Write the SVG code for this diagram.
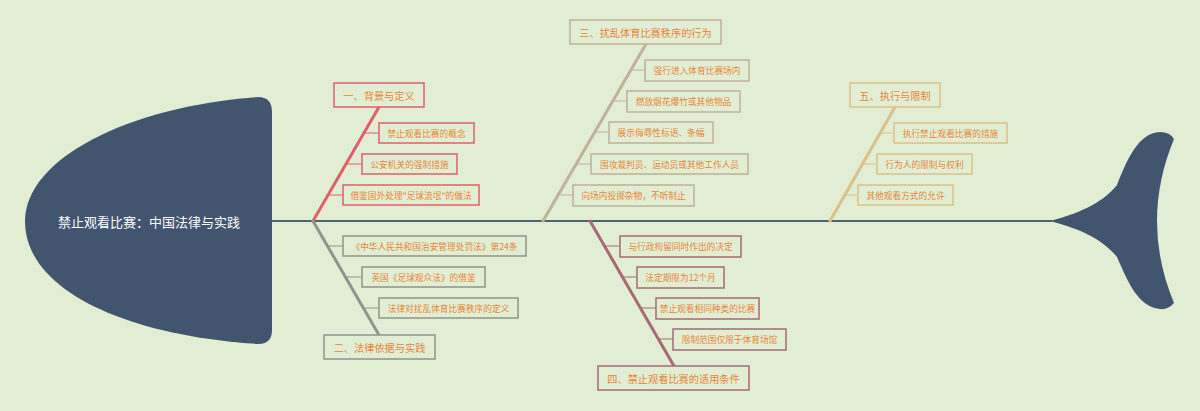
<svg xmlns="http://www.w3.org/2000/svg" width="1200" height="411" viewBox="0 0 1200 411">
<style>
text{font-family:"Noto Sans CJK SC","Noto Sans",sans-serif;text-anchor:middle;dominant-baseline:central;fill:#e8853a}
.lab{font-size:10.2px}
.sub{font-size:8.7px}
.box{fill:#e2eed3;stroke-width:1.5}
.title{font-size:13px;fill:#ffffff}
.b1{stroke:#e0606a}.b2{stroke:#8f958d}.b3{stroke:#c0b198}.b4{stroke:#a86a76}.b5{stroke:#dcc089}
.main{stroke-width:3;fill:none;stroke-linecap:round}
.tick{stroke-width:1;fill:none}
</style>
<rect width="1200" height="411" fill="#e2eed3"/>
<g id="connectors">
<line x1="270" y1="221" x2="1052" y2="221" stroke="#4f6378" stroke-width="2"/>
<line class="main b1" x1="313" y1="221" x2="379" y2="107"/>
<line class="main b2" x1="313" y1="221" x2="379" y2="335"/>
<line class="main b3" x1="543" y1="221" x2="646" y2="44"/>
<line class="main b4" x1="590" y1="221" x2="674" y2="366"/>
<line class="main b5" x1="830" y1="221" x2="895" y2="107"/>
<path class="tick b1" d="M364 133H379M346 164H362M328 195H343"/>
<path class="tick b2" d="M328 246H343M345 277H362M363 308H379"/>
<path class="tick b3" d="M631 70H645M613 101H627M595 132H609M576 164H591M558 195H573"/>
<path class="tick b4" d="M605 246H620M622 277H637M640 308H656M658 339H673"/>
<path class="tick b5" d="M880 133H894M862 164H877M845 195H858"/>
</g>
<g id="head">
<path d="M258 97 Q272 97 272 112 L272 330 Q272 344 258 344 C130 336 25 292 25 221 C25 158 130 106 258 97 Z" fill="#42556f"/>
<text class="title" x="149" y="221">禁止观看比赛：中国法律与实践</text>
</g>
<g id="tail">
<path d="M1050 221 C1085 212 1105 200 1117 185 C1127 160 1138 133 1160 132 Q1170 132 1174 139 Q1140 221 1174 303 Q1168 310 1160 309 C1138 307 1128 282 1117 257 C1105 242 1085 230 1050 221 Z" fill="#42556f"/>
</g>
<g id="n1">
<rect class="box b1" x="334" y="83" width="90" height="24"/>
<text class="lab" x="379" y="95">一、背景与定义</text>
</g>
<g id="n1a"><rect class="box b1" x="379" y="123" width="95" height="20"/><text class="sub" x="426.5" y="133">禁止观看比赛的概念</text></g>
<g id="n1b"><rect class="box b1" x="362" y="154" width="95" height="20"/><text class="sub" x="409.5" y="164">公安机关的强制措施</text></g>
<g id="n1c"><rect class="box b1" x="343" y="185" width="136" height="20"/><text class="sub" x="411" y="195">借鉴国外处理"足球流氓"的做法</text></g>
<g id="n2">
<rect class="box b2" x="324" y="335" width="111" height="24"/>
<text class="lab" x="379.5" y="347">二、法律依据与实践</text>
</g>
<g id="n2a"><rect class="box b2" x="343" y="236" width="183" height="20"/><text class="sub" x="434.5" y="246">《中华人民共和国治安管理处罚法》第24条</text></g>
<g id="n2b"><rect class="box b2" x="362" y="267" width="123" height="20"/><text class="sub" x="423.5" y="277">英国《足球观众法》的借鉴</text></g>
<g id="n2c"><rect class="box b2" x="379" y="298" width="139" height="20"/><text class="sub" x="448.5" y="308">法律对扰乱体育比赛秩序的定义</text></g>
<g id="n3">
<rect class="box b3" x="570" y="20" width="151" height="24"/>
<text class="lab" x="645.5" y="32">三、扰乱体育比赛秩序的行为</text>
</g>
<g id="n3a"><rect class="box b3" x="645" y="60" width="104" height="21"/><text class="sub" x="697" y="70.5">强行进入体育比赛场内</text></g>
<g id="n3b"><rect class="box b3" x="627" y="91" width="113" height="21"/><text class="sub" x="683.5" y="101.5">燃放烟花爆竹或其他物品</text></g>
<g id="n3c"><rect class="box b3" x="609" y="122" width="104" height="21"/><text class="sub" x="661" y="132.5">展示侮辱性标语、条幅</text></g>
<g id="n3d"><rect class="box b3" x="591" y="154" width="157" height="20"/><text class="sub" x="669.5" y="164">围攻裁判员、运动员或其他工作人员</text></g>
<g id="n3e"><rect class="box b3" x="573" y="185" width="121" height="21"/><text class="sub" x="633.5" y="195.5">向场内投掷杂物，不听制止</text></g>
<g id="n4">
<rect class="box b4" x="598" y="366" width="151" height="24"/>
<text class="lab" x="673.5" y="378">四、禁止观看比赛的适用条件</text>
</g>
<g id="n4a"><rect class="box b4" x="620" y="236" width="121" height="21"/><text class="sub" x="680.5" y="246.5">与行政拘留同时作出的决定</text></g>
<g id="n4b"><rect class="box b4" x="637" y="267" width="87" height="21"/><text class="sub" x="680.5" y="277.5">法定期限为12个月</text></g>
<g id="n4c"><rect class="box b4" x="656" y="298" width="103" height="21"/><text class="sub" x="707.5" y="308.5">禁止观看相同种类的比赛</text></g>
<g id="n4d"><rect class="box b4" x="673" y="329" width="113" height="21"/><text class="sub" x="729.5" y="339.5">限制范围仅限于体育场馆</text></g>
<g id="n5">
<rect class="box b5" x="850" y="83" width="90" height="24"/>
<text class="lab" x="895" y="95">五、执行与限制</text>
</g>
<g id="n5a"><rect class="box b5" x="894" y="123" width="113" height="20"/><text class="sub" x="950.5" y="133">执行禁止观看比赛的措施</text></g>
<g id="n5b"><rect class="box b5" x="877" y="154" width="95" height="20"/><text class="sub" x="924.5" y="164">行为人的限制与权利</text></g>
<g id="n5c"><rect class="box b5" x="858" y="185" width="95" height="20"/><text class="sub" x="905.5" y="195">其他观看方式的允许</text></g>
</svg>
